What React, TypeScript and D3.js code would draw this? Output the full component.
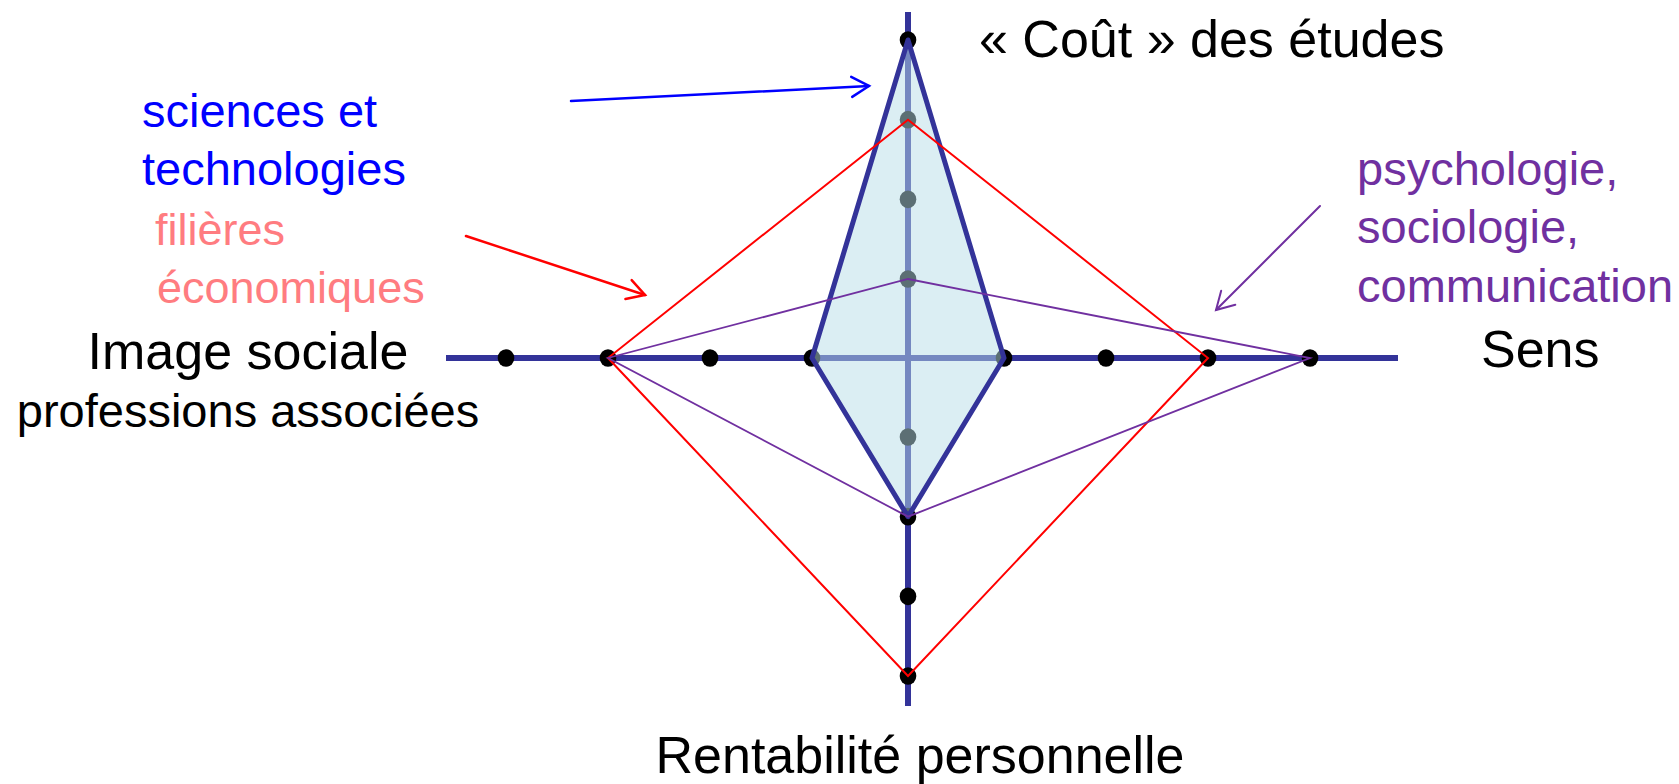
import React from 'react';
import * as d3 from 'd3';

// axes, clockwise from the top
const AXES = ['« Coût » des études', 'Sens', 'Rentabilité personnelle', 'Image sociale'];
const LEVELS = [1, 2, 3, 4];

// one value per axis (top, right, bottom, left)
const SCIENCES = [4, 1, 2, 1];
const ECONOMIE = [3, 3, 4, 3];
const PSYCHO = [1, 4, 2, 3];

const W = 1679;
const H = 784;
const cx = 908;
const cy = 358;
const DIRS: [number, number][] = [[0, -1], [1, 0], [0, 1], [-1, 0]];

const rx = d3.scaleLinear().domain([1, 4]).range([96, 402]);
const ry = d3.scaleLinear().domain([1, 4]).range([79, 318]);

const NAVY = '#333399';
const FONT = '"Liberation Sans", Arial, sans-serif';

const pt = (axis: number, v: number): [number, number] => {
  const [dx, dy] = DIRS[axis];
  return [cx + dx * rx(v), cy + dy * ry(v)];
};

const closed = d3.line().curve(d3.curveLinearClosed);
const shape = (vals: number[]) => closed(vals.map((v, i) => pt(i, v))) as string;

// open chevron arrow
const Arrow = ({ from, to, color, width }: { from: [number, number]; to: [number, number]; color: string; width: number }) => {
  const a = Math.atan2(to[1] - from[1], to[0] - from[0]);
  const L = 20;
  const arm = (s: number) => [to[0] + L * Math.cos(a + Math.PI + s), to[1] + L * Math.sin(a + Math.PI + s)];
  const p1 = arm(Math.PI / 6);
  const p2 = arm(-Math.PI / 6);
  return (
    <g stroke={color} strokeWidth={width} fill="none" strokeLinecap="round">
      <line x1={from[0]} y1={from[1]} x2={to[0]} y2={to[1]} />
      <polyline points={`${p1[0]},${p1[1]} ${to[0]},${to[1]} ${p2[0]},${p2[1]}`} />
    </g>
  );
};

export default function App() {
  return (
    <svg
      width={W}
      height={H}
      style={{ position: 'absolute', left: 0, top: 0, background: '#fff' }}
      fontFamily={FONT}
    >
      {/* axes */}
      <line x1={446} y1={cy} x2={1398} y2={cy} stroke={NAVY} strokeWidth={6} />
      <line x1={cx} y1={12} x2={cx} y2={706} stroke={NAVY} strokeWidth={6} />

      {/* level dots */}
      {DIRS.map((_, i) =>
        LEVELS.map(l => {
          const [x, y] = pt(i, l);
          return <ellipse key={`${i}-${l}`} cx={x} cy={y} rx={8.3} ry={8.8} fill="#000" />;
        })
      )}

      {/* sciences et technologies */}
      <path d={shape(SCIENCES)} fill="#B7DEE8" fillOpacity={0.5} stroke={NAVY} strokeWidth={5} strokeLinejoin="round" />
      {/* filières économiques */}
      <path d={shape(ECONOMIE)} fill="none" stroke="#FF0000" strokeWidth={2} />
      {/* psychologie */}
      <path d={shape(PSYCHO)} fill="none" stroke="#7030A0" strokeWidth={1.8} />

      {/* axis labels */}
      <text x={979} y={57} fontSize={52} fill="#000">{AXES[0]}</text>
      <text x={1481} y={367} fontSize={52} fill="#000">{AXES[1]}</text>
      <text x={920} y={773} fontSize={52} fill="#000" textAnchor="middle">{AXES[2]}</text>
      <text x={248} y={369} fontSize={52} fill="#000" textAnchor="middle">{AXES[3]}</text>
      <text x={248} y={427} fontSize={47} fill="#000" textAnchor="middle">professions associées</text>

      {/* series annotations */}
      <text x={142} y={127} fontSize={47} fill="#0000FF">sciences et</text>
      <text x={142} y={185} fontSize={47} fill="#0000FF">technologies</text>
      <text x={155} y={245} fontSize={45} fill="#FF7C80">filières</text>
      <text x={157} y={303} fontSize={45} fill="#FF7C80">économiques</text>
      <text x={1357} y={185} fontSize={47} fill="#7030A0">psychologie,</text>
      <text x={1357} y={243} fontSize={47} fill="#7030A0">sociologie,</text>
      <text x={1357} y={302} fontSize={47} fill="#7030A0">communication</text>

      <Arrow from={[571, 101]} to={[869, 86]} color="#0000FF" width={2.5} />
      <Arrow from={[466, 236]} to={[645, 295]} color="#FF0000" width={2.5} />
      <Arrow from={[1320, 206]} to={[1216, 310]} color="#7030A0" width={2} />
    </svg>
  );
}
